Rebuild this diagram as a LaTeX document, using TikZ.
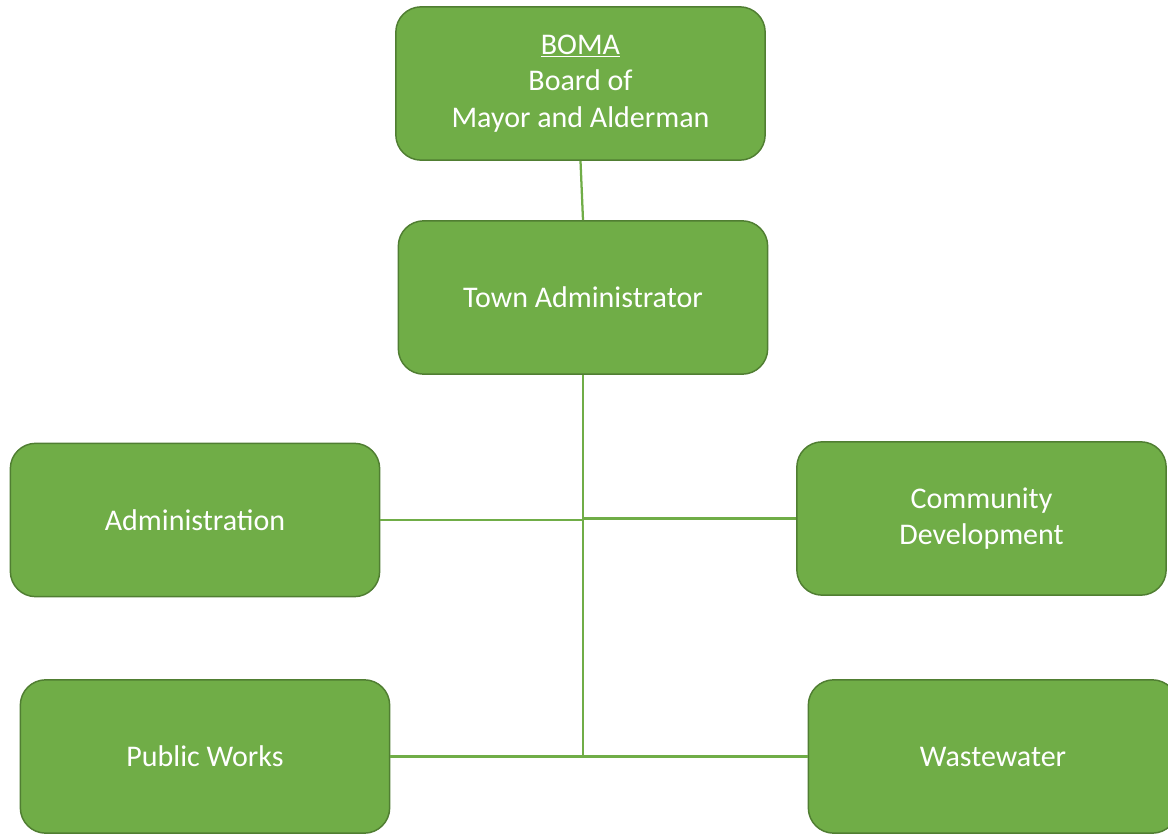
\documentclass[tikz,border=0pt]{standalone}
\usepackage{fontspec}
\setmainfont{Carlito}
\usetikzlibrary{positioning}
\definecolor{oGreen}{HTML}{70AD47}
\definecolor{oGreenDark}{HTML}{507E32}
\tikzset{
    unit/.style={rounded corners=19pt, draw=oGreenDark, line width=1.1pt, fill=oGreen,
        text=white, align=center, minimum width=277pt, minimum height=115pt,
        inner sep=0pt, font=\fontsize{22.5}{27.5}\selectfont},
    link/.style={line width=1.7pt, oGreen}
}

\begin{document}
\begin{tikzpicture}[x=0.75pt,y=-0.75pt]
\useasboundingbox (0,0) rectangle (1168,834);
% top of the chart
\node[unit] (boma) at (580.5, 83.5) {\underline{BOMA}\\Board of\\Mayor and Alderman};
\node[unit] (admin) at (583, 297.5) {Town Administrator};
% departments
\node[unit] (adm) at (195, 520) {Administration};
\node[unit] (cd) at (981.5, 518.5) {Community\\Development};
\node[unit] (pw) at (205, 756.5) {Public Works};
\node[unit] (ww) at (993, 756.5) {Wastewater};
% connectors
\coordinate (j1) at (admin.south |- adm.east);
\coordinate (j2) at (admin.south |- pw.east);
\draw[link] (boma.south) -- (admin.north);
\draw[link] (admin.south) -- (j2);
\draw[link] (adm.east) -- (j1);
\draw[link] (cd.west) -- (cd.west -| j1);
\draw[link] (pw.east) -- (j2);
\draw[link] (ww.west) -- (j2);
\end{tikzpicture}
\end{document}
